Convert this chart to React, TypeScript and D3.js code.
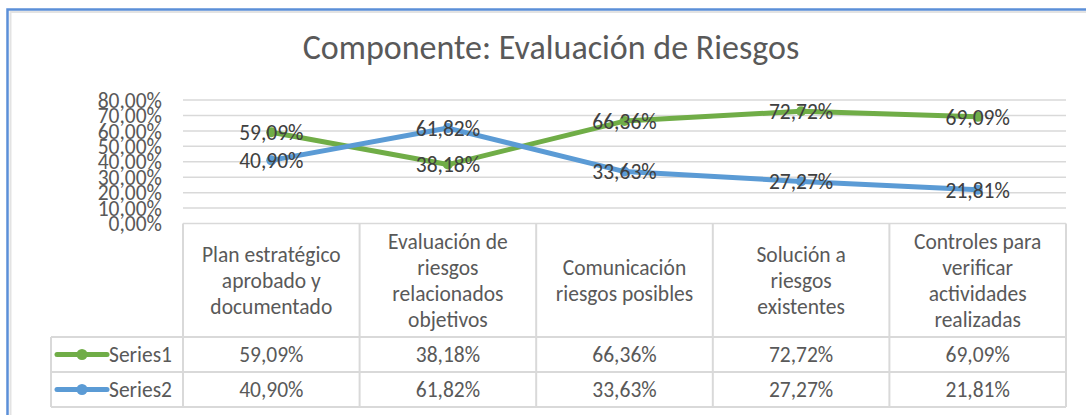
import * as d3 from 'd3';

const categories = [
  ['Plan estratégico', 'aprobado y', 'documentado'],
  ['Evaluación de', 'riesgos', 'relacionados', 'objetivos'],
  ['Comunicación', 'riesgos posibles'],
  ['Solución a', 'riesgos', 'existentes'],
  ['Controles para', 'verificar', 'actividades', 'realizadas'],
];
const series1 = [0.5909, 0.3818, 0.6636, 0.7272, 0.6909];
const series2 = [0.409, 0.6182, 0.3363, 0.2727, 0.2181];
const seriesNames = ['Series1', 'Series2'];
const yTicks = [0, 0.1, 0.2, 0.3, 0.4, 0.5, 0.6, 0.7, 0.8];

const W = 1086;
const H = 415;
const FONT = 'Carlito, Calibri, Lato, sans-serif';
const TEXT = '#595959';
const GRID = '#d9d9d9';
const colors = ['#70ad47', '#5b9bd5'];
const FS = 21.5;

const fmt = (v: number) => (v * 100).toFixed(2).replace('.', ',') + '%';

export default function App() {
  const x = d3.scaleBand<number>()
    .domain(d3.range(categories.length))
    .range([183, 1066]);
  const y = d3.scaleLinear().domain([0, 0.8]).range([223.5, 100]);
  const cx = (i: number) => (x(i) as number) + x.bandwidth() / 2;

  const line = d3.line<number>()
    .x((_, i) => cx(i))
    .y(d => y(d));

  const all = [series1, series2];
  const headTop = y(0);
  const headBottom = 337;
  const rowH = 35;
  const tableRight = x.range()[1];
  const legendLeft = 51;

  return (
    <svg width={W} height={H} style={{ position: 'absolute', left: 0, top: 0 }} fontFamily={FONT}>
      <rect x={0} y={0} width={W} height={H} fill="#fff" />
      {/* chart frame */}
      <path d={`M10.5,${H} V12 H${W}`} fill="none" stroke="#e3e3e3" strokeWidth={2} />
      <path d={`M7.5,${H} V9.5 H${W}`} fill="none" stroke="#5b8fd8" strokeWidth={2.5} />

      <text x={551} y={59} textAnchor="middle" fontSize={34} fill={TEXT}>
        Componente: Evaluación de Riesgos
      </text>

      {/* gridlines */}
      {yTicks.map(t => (
        <line key={t} x1={183} x2={tableRight} y1={y(t)} y2={y(t)} stroke={GRID} strokeWidth={1.5} />
      ))}
      {yTicks.map(t => (
        <text key={'l' + t} x={162} y={y(t)} dy="0.36em" textAnchor="end" fontSize={FS} fill={TEXT}>
          {fmt(t)}
        </text>
      ))}

      {/* data table */}
      <g stroke={GRID} strokeWidth={2} fill="none">
        {d3.range(categories.length + 1).map(i => {
          const xx = i < categories.length ? (x(i) as number) : tableRight;
          return <line key={i} x1={xx} x2={xx} y1={headTop} y2={headBottom + rowH * 2} />;
        })}
        {[0, 1, 2].map(r => (
          <line key={'h' + r} x1={legendLeft} x2={tableRight} y1={headBottom + rowH * r} y2={headBottom + rowH * r} />
        ))}
        <line x1={legendLeft} x2={legendLeft} y1={headBottom} y2={headBottom + rowH * 2} />
      </g>
      {categories.map((lines, i) => {
        const mid = (headTop + headBottom) / 2;
        const lh = 26;
        return (
          <text key={i} textAnchor="middle" fontSize={FS} fill={TEXT}>
            {lines.map((s, j) => (
              <tspan key={j} x={cx(i)} y={mid + (j - (lines.length - 1) / 2) * lh} dy="0.36em">{s}</tspan>
            ))}
          </text>
        );
      })}
      {all.map((s, k) => {
        const rowMid = headBottom + rowH * k + rowH / 2;
        return (
          <g key={k}>
            <line x1={57} x2={107} y1={rowMid} y2={rowMid} stroke={colors[k]} strokeWidth={5} strokeLinecap="round" />
            <circle cx={82} cy={rowMid} r={5.5} fill={colors[k]} />
            <text x={109} y={rowMid} dy="0.36em" fontSize={FS} fill={TEXT}>{seriesNames[k]}</text>
            {s.map((v, i) => (
              <text key={i} x={cx(i)} y={rowMid} dy="0.36em" textAnchor="middle" fontSize={FS} fill={TEXT}>
                {fmt(v)}
              </text>
            ))}
          </g>
        );
      })}

      {/* series lines */}
      {all.map((s, k) => (
        <g key={'s' + k}>
          <path d={line(s) ?? ''} fill="none" stroke={colors[k]} strokeWidth={5} strokeLinejoin="round" strokeLinecap="round" />
          {s.map((v, i) => (
            <circle key={i} cx={cx(i)} cy={y(v)} r={5} fill={colors[k]} />
          ))}
        </g>
      ))}
      {all.map((s, k) => (
        <g key={'d' + k}>
          {s.map((v, i) => (
            <text key={i} x={cx(i)} y={y(v)} dy="0.36em" textAnchor="middle" fontSize={FS} fill="#404040">
              {fmt(v)}
            </text>
          ))}
        </g>
      ))}
    </svg>
  );
}
